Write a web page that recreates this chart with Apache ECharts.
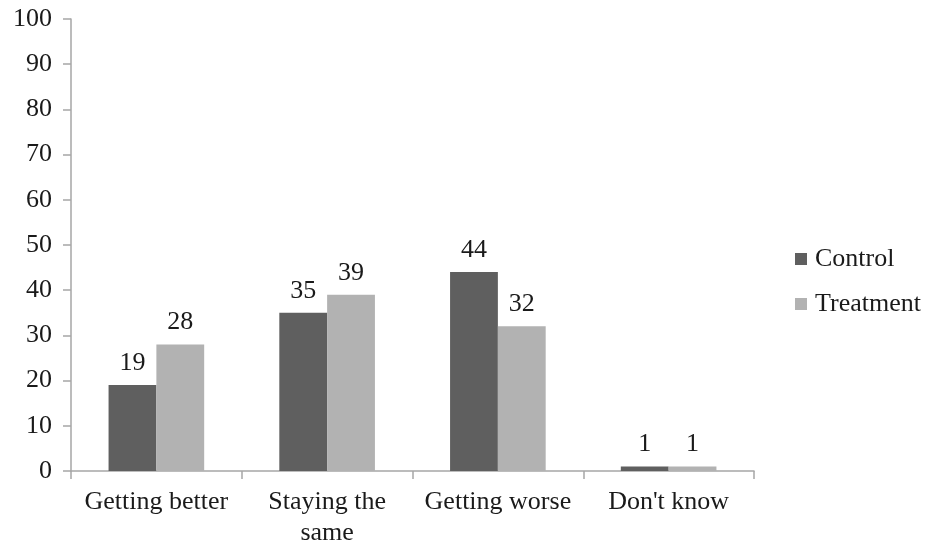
<!DOCTYPE html>
<html>
<head>
<meta charset="utf-8">
<script src="https://cdn.jsdelivr.net/npm/echarts@6/dist/echarts.min.js"></script>
<style>
  html, body { margin: 0; padding: 0; background: #fff; }
  #chart { width: 930px; height: 549px; }
</style>
</head>
<body>
<div id="chart"></div>
<script>
// Perceived trend by group (percent of respondents)
const categories = ['Getting better', 'Staying the same', 'Getting worse', "Don't know"];
const controlValues = [19, 35, 44, 1];
const treatmentValues = [28, 39, 32, 1];
const seriesNames = ['Control', 'Treatment'];

const FONT = '"Liberation Serif", "Times New Roman", serif';
const TEXT = '#1a1a1a';
const AXIS = '#a6a6a6';
const FS = 26;

const chart = echarts.init(document.getElementById('chart'), null, { renderer: 'canvas' });

const labelStyle = {
  show: true,
  position: 'top',
  distance: 9,
  color: TEXT,
  fontFamily: FONT,
  fontSize: FS
};

chart.setOption({
  animation: false,
  backgroundColor: '#ffffff',
  grid: { left: 71, right: 176, top: 19, bottom: 75, containLabel: false },
  legend: {
    orient: 'vertical',
    left: 795,
    top: 246,
    padding: 0,
    itemWidth: 12,
    itemHeight: 12,
    itemGap: 19,
    icon: 'rect',
    textStyle: { color: TEXT, fontFamily: FONT, fontSize: FS, padding: [0, 0, 0, 3] },
    data: seriesNames
  },
  xAxis: {
    type: 'category',
    data: categories,
    axisLine: { lineStyle: { color: AXIS, width: 1.5 } },
    axisTick: { show: true, alignWithLabel: false, length: 8, lineStyle: { color: AXIS, width: 1.5 } },
    axisLabel: {
      color: TEXT,
      fontFamily: FONT,
      fontSize: FS,
      margin: 16,
      lineHeight: 31,
      interval: 0,
      formatter: v => v.replace(' same', '\nsame')
    }
  },
  yAxis: {
    type: 'value',
    min: 0,
    max: 100,
    interval: 10,
    axisLine: { show: true, lineStyle: { color: AXIS, width: 1.5 } },
    axisTick: { show: true, length: 8, lineStyle: { color: AXIS, width: 1.5 } },
    splitLine: { show: false },
    axisLabel: { color: TEXT, fontFamily: FONT, fontSize: FS, margin: 19 }
  },
  series: [
    {
      name: seriesNames[0],
      type: 'bar',
      data: controlValues,
      barGap: '0%',
      barCategoryGap: '44%',
      itemStyle: { color: '#5f5f5f' },
      label: labelStyle
    },
    {
      name: seriesNames[1],
      type: 'bar',
      data: treatmentValues,
      barGap: '0%',
      barCategoryGap: '44%',
      itemStyle: { color: '#b2b2b2' },
      label: labelStyle
    }
  ]
});
</script>
</body>
</html>
